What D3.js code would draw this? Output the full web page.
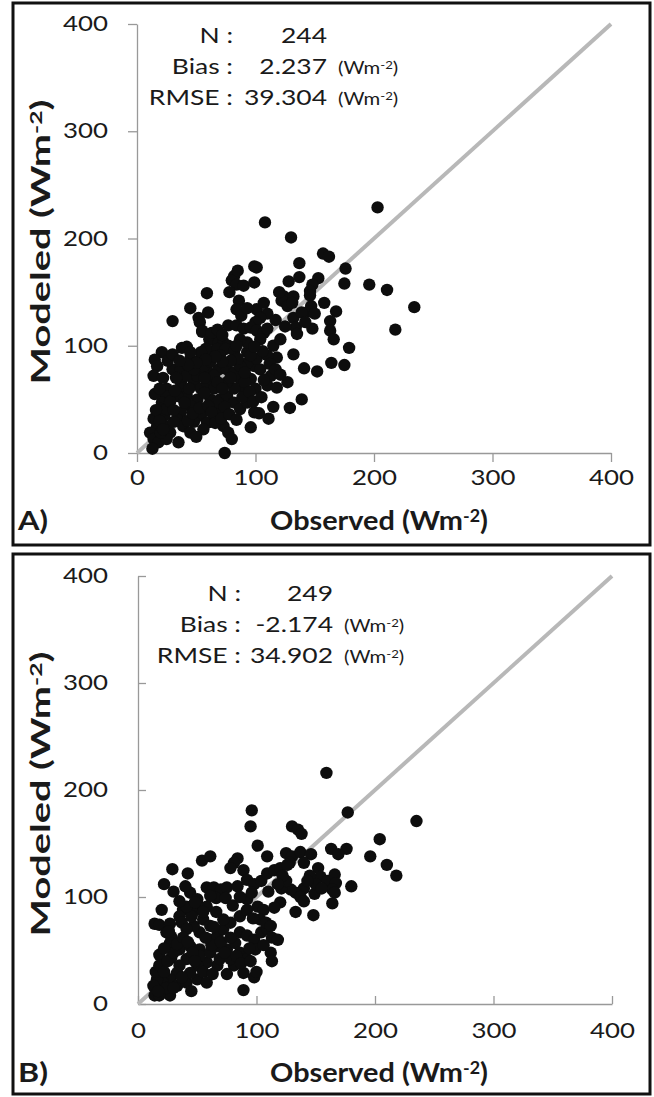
<!DOCTYPE html>
<html>
<head>
<meta charset="utf-8">
<script src="https://cdn.jsdelivr.net/npm/d3@7"></script>
<style>
  body { margin: 0; background: #fff; }
  text { font-family: Lato, "Open Sans", sans-serif; fill: #1a1a1a; }
</style>
</head>
<body>
<svg id="chart" width="654" height="1097"></svg>
<script>
// valeurs
const axisTicks = [0, 100, 200, 300, 400];
const panelNames = ["A)", "B)"];
const statNames = ["N :", "Bias :", "RMSE :"];
const statsA = ["244", "2.237", "39.304"];
const statsB = ["249", "-2.174", "34.902"];
const statUnits = [false, true, true];

// [observed, modeled]
const pointsA = [
  [203,229],[108,215],[130,201],[157,186],[162,183],[137,177],[176,172],[99,174],[101,173],
  [82,165],[80,161],[84,157],[90,156],[99,159],[128,160],[137,164],[153,163],[148,157],
  [175,158],[196,157],[211,152],[234,136],[218,115],[59,149],[146,151],[146,147],[124,146],
  [122,142],[127,137],[86,142],[84,134],[132,146],[131,140],[45,135],[60,131],[101,134],
  [110,130],[104,126],[100,122],[147,137],[145,132],[168,132],[30,123],[52,126],[53,122],
  [55,114],[77,119],[84,119],[90,116],[96,117],[101,114],[107,112],[110,116],[132,126],
  [134,117],[135,111],[148,116],[163,123],[163,114],[166,106],[179,98],[55,113],[61,106],
  [65,105],[69,103],[73,103],[77,100],[38,98],[42,99],[21,94],[15,87],[17,81],[14,72],
  [58,97],[62,95],[68,97],[75,97],[82,95],[93,94],[115,100],[121,106],[118,89],[132,92],
  [141,79],[152,76],[164,84],[175,82],[30,78],[37,78],[45,88],[54,88],[59,78],[69,78],
  [76,78],[82,75],[87,69],[96,69],[99,81],[104,78],[113,72],[110,63],[100,60],[90,60],
  [118,61],[127,66],[25,60],[24,53],[21,47],[20,41],[14,32],[17,25],[11,19],[14,13],
  [18,10],[13,4],[37,66],[39,60],[42,53],[48,66],[54,60],[51,50],[45,44],[37,38],[34,31],
  [39,25],[45,19],[28,19],[25,13],[35,10],[59,66],[65,60],[62,50],[56,41],[54,35],[59,28],
  [65,35],[70,41],[70,50],[76,53],[82,47],[87,41],[93,47],[82,60],[76,66],[65,72],[73,25],
  [77,19],[80,13],[96,24],[99,38],[103,37],[111,32],[115,43],[129,42],[139,50],[74,0],
  [20,19],[25,25],[31,29],[93,84],[101,88],[110,91],[42,72],[51,72],[34,53],[56,81],
  [48,78],[68,66],[87,81],[96,91],[62,85],[70,91],[54,94],[45,94],[93,103],[87,106],
  [104,106],[68,47],[48,29],[56,22],[23,35],[25,41],
  [16,40],[19,30],[22,22],[15,55],[19,60],[22,70],[26,86],[30,92],[33,70],[28,48],[31,40],
  [40,47],[43,30],[47,37],[50,15],[53,42],[57,56],[60,44],[63,38],[66,28],[71,32],[74,43],
  [78,36],[84,31],[89,52],[91,66],[95,57],[98,48],[105,52],[107,68],[112,83],[117,78],
  [121,73],[106,95],[99,99],[85,88],[79,86],[72,85],[66,90],[58,87],[50,84],[43,82],[36,86],
  [32,58],[44,60],[57,70],[72,60],[79,70],[91,75],[84,100],[63,112],[68,115],[72,110],
  [88,128],[93,135],[107,140],[117,124],[125,118],[139,131],[142,122],[120,150],[158,140],
  [150,130],[85,170],[78,150]
];

const pointsB = [
  [159,216],[177,179],[235,171],[96,181],[95,166],[130,166],[135,163],[138,159],[204,154],
  [101,148],[109,138],[176,145],[163,145],[169,140],[196,138],[210,130],[218,120],[125,141],
  [130,138],[137,142],[146,140],[128,132],[140,132],[84,136],[81,132],[78,127],[89,125],
  [54,134],[61,138],[29,126],[42,122],[22,112],[58,109],[64,109],[70,107],[75,109],[84,110],
  [66,99],[74,99],[92,116],[98,112],[104,115],[109,122],[115,125],[120,127],[126,130],
  [152,127],[154,119],[160,115],[166,121],[167,113],[164,107],[166,104],[180,110],[149,103],
  [140,108],[133,104],[129,107],[137,100],[140,96],[164,94],[133,86],[148,83],[120,95],
  [44,104],[50,98],[52,91],[46,85],[38,88],[35,82],[37,76],[20,88],[14,75],[18,74],[27,75],
  [24,67],[28,63],[27,57],[18,46],[28,43],[35,51],[44,54],[52,51],[61,60],[67,54],[75,51],
  [82,57],[86,67],[92,64],[98,60],[104,67],[109,70],[113,62],[118,60],[112,48],[113,40],
  [99,51],[86,48],[92,42],[81,36],[89,29],[98,25],[89,13],[75,28],[67,36],[58,39],[50,36],
  [41,42],[35,36],[33,29],[27,23],[21,20],[16,23],[13,17],[14,8],[21,11],[27,8],[33,17],
  [41,20],[50,23],[44,29],[52,45],[61,48],[69,42],[78,42],[67,64],[52,67],[47,73],[41,70],
  [18,8],[24,15],[17,12],[45,82],[55,79],[61,73],[72,70],[78,76],[86,82],[72,79],[58,91],
  [41,91],[61,101],[101,91],[106,88],[103,79],[108,76],[112,73],[92,98],[96,104],
  [15,30],[18,36],[22,30],[25,40],[30,48],[33,56],[38,62],[42,58],[46,48],[48,40],[55,30],
  [58,20],[63,28],[62,55],[70,58],[73,48],[78,62],[83,45],[87,38],[95,40],[100,30],[106,55],
  [94,52],[57,62],[64,72],[55,86],[48,95],[35,96],[30,105],[40,110],[66,86],[80,92],[86,100],
  [92,88],[97,80],[115,90],[121,108],[125,115],[145,120],[150,112],[155,108],[143,115],
  [122,120],[118,112],[110,105],[30,15],[37,25],[45,12],[22,52],[26,68]
];

const svg = d3.select("#chart");
svg.append("rect").attr("width", 654).attr("height", 1097).attr("fill", "#fff");

// facteur d'étirement horizontal du texte (la figure d'origine est étirée)
const probe = svg.append("text").style("font-size", "21px").text("400");
const SX = 45 / probe.node().getComputedTextLength();
probe.remove();

function fit(t, w) {
  const n = t.node().getComputedTextLength();
  t.attr("transform", (t.attr("transform") || "") + ` scale(${w / n},1)`);
}

function unitLabel(t, pre) {
  t.append("tspan").text(pre + " (Wm");
  t.append("tspan").attr("dy", "-0.45em").style("font-size", "0.62em").text("-2");
  t.append("tspan").attr("dy", "0.28em").text(")");
}

function drawPanel(p) {
  const g = svg.append("g");
  const x = d3.scaleLinear().domain([0, 400]).range([p.x0, p.x1]);
  const y = d3.scaleLinear().domain([0, 400]).range([p.y0, p.y1]);

  g.append("rect")
    .attr("x", p.box[0]).attr("y", p.box[1])
    .attr("width", p.box[2]).attr("height", p.box[3])
    .attr("fill", "none").attr("stroke", "#111").attr("stroke-width", 3);

  // axes
  const yAxis = d3.axisLeft(y).tickValues(axisTicks).tickSizeOuter(0)
    .tickSizeInner(p.inside ? -8 : 9);
  const xAxis = d3.axisBottom(x).tickValues(axisTicks).tickSizeOuter(0)
    .tickSizeInner(p.inside ? -8 : 9);

  const ya = g.append("g").attr("transform", `translate(${p.x0},0)`).call(yAxis);
  const xa = g.append("g").attr("transform", `translate(0,${p.y0})`).call(xAxis);
  [ya, xa].forEach(a => {
    a.select(".domain").attr("stroke", "#999").attr("stroke-width", 1.3);
    a.selectAll(".tick line").attr("stroke", "#999").attr("stroke-width", 1.3);
    a.selectAll("text").style("font-size", "21px").attr("fill", "#1a1a1a");
  });
  ya.selectAll("text").attr("x", -p.yLabGap / SX).attr("transform", `scale(${SX},1)`);
  xa.selectAll("text").attr("y", p.xLabGap).attr("dy", 0).attr("transform", `scale(${SX},1)`);

  // droite 1:1
  g.append("line")
    .attr("x1", x(0)).attr("y1", y(0)).attr("x2", x(400)).attr("y2", y(400))
    .attr("stroke", "#b8b8b8").attr("stroke-width", 4);

  g.append("g").selectAll("circle")
    .data(p.points)
    .join("circle")
    .attr("cx", d => x(d[0]))
    .attr("cy", d => y(d[1]))
    .attr("r", 6.2)
    .attr("fill", "#0d0d0d");

  // statistiques
  statNames.forEach((s, i) => {
    const by = p.statY + i * p.statDy;
    g.append("text").attr("text-anchor", "end").style("font-size", "21.5px")
      .attr("transform", `translate(${p.statLabX},${by}) scale(${SX},1)`).text(s);
    g.append("text").attr("text-anchor", "end").style("font-size", "21.5px")
      .attr("transform", `translate(${p.statValX},${by}) scale(${SX},1)`).text(p.stats[i]);
    if (statUnits[i]) {
      const u = g.append("text").style("font-size", "16.5px")
        .attr("transform", `translate(${p.statValX + 11},${by}) scale(${SX},1)`);
      u.append("tspan").text("(Wm");
      u.append("tspan").attr("dy", "-0.45em").style("font-size", "0.65em").text("-2");
      u.append("tspan").attr("dy", "0.3em").text(")");
    }
  });

  // titres
  const xt = g.append("text").attr("text-anchor", "middle")
    .style("font-size", "27px").style("font-weight", "bold")
    .attr("transform", `translate(${p.xTitle[0]},${p.xTitle[1]})`);
  unitLabel(xt, "Observed");
  fit(xt, 218);

  const yt = g.append("text").attr("text-anchor", "middle")
    .style("font-size", "27px").style("font-weight", "bold")
    .attr("transform", `translate(${p.yTitle[0]},${p.yTitle[1]}) rotate(-90)`);
  unitLabel(yt, "Modeled");
  fit(yt, 285);

  const nt = g.append("text")
    .style("font-size", "27px").style("font-weight", "bold")
    .attr("transform", `translate(18,${p.xTitle[1]})`)
    .text(p.name);
  fit(nt, 30);
}

drawPanel({
  name: panelNames[0], points: pointsA, stats: statsA,
  box: [13, 3, 637, 542], x0: 137, x1: 611, y0: 453, y1: 24, inside: false,
  yLabGap: 29, xLabGap: 32,
  statY: 43, statDy: 31, statLabX: 233, statValX: 327,
  xTitle: [379, 530], yTitle: [50, 242]
});

drawPanel({
  name: panelNames[1], points: pointsB, stats: statsB,
  box: [13, 554, 637, 540], x0: 138, x1: 612, y0: 1004, y1: 576, inside: true,
  yLabGap: 30, xLabGap: 34,
  statY: 601, statDy: 31, statLabX: 241, statValX: 333,
  xTitle: [379, 1082], yTitle: [50, 794]
});
</script>
</body>
</html>
